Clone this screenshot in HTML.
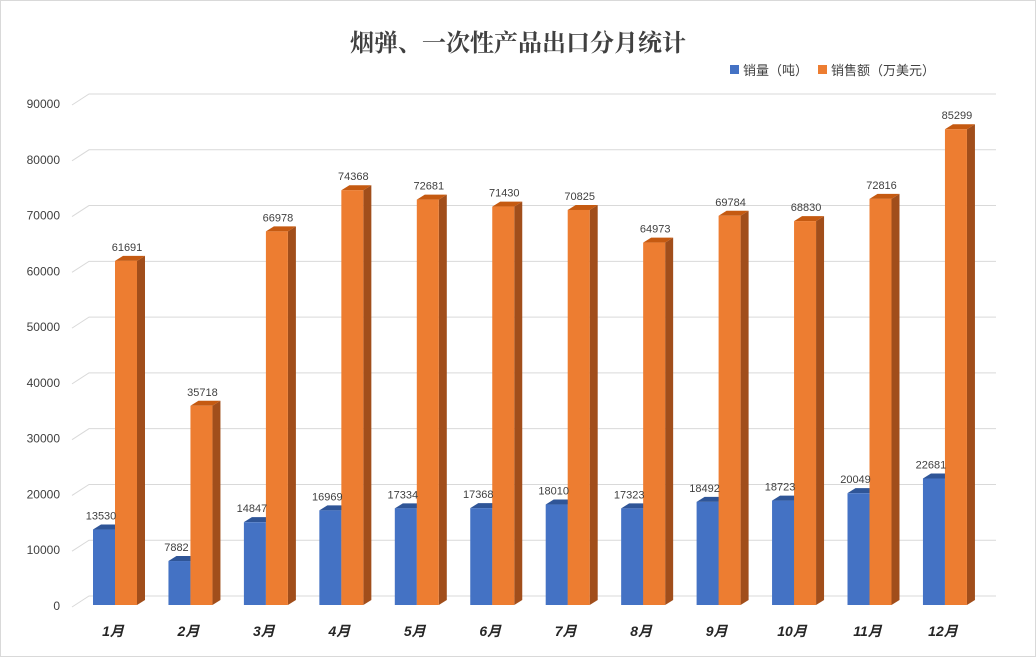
<!DOCTYPE html>
<html><head><meta charset="utf-8"><style>
body{margin:0;background:#fff}
svg{display:block;font-family:"Liberation Sans","Noto Sans CJK SC",sans-serif}
</style></head><body>
<svg id="chart" width="1036" height="657" viewBox="0 0 1036 657">
<rect x="0.5" y="0.5" width="1035" height="656" fill="#fff" stroke="#d9d9d9"/>
<text x="518" y="51" text-anchor="middle" font-size="24" font-weight="bold" fill="#404040" font-family="'Noto Serif CJK SC','Noto Sans CJK SC',serif">烟弹、一次性产品出口分月统计</text>
<g>
<rect x="730" y="65" width="9" height="9" fill="#4472c4"/>
<text x="743" y="75" font-size="13" fill="#404040">销量（吨）</text>
<rect x="818" y="65" width="9" height="9" fill="#ed7d31"/>
<text x="831" y="75" font-size="13" fill="#404040">销售额（万美元）</text>
</g>
<g id="grid"></g><g id="bars"></g><g id="labels"></g>
</svg>
<script>
const categories=["1月","2月","3月","4月","5月","6月","7月","8月","9月","10月","11月","12月"];
const volume=[13530,7882,14847,16969,17334,17368,18010,17323,18492,18723,20049,22681];
const sales=[61691,35718,66978,74368,72681,71430,70825,64973,69784,68830,72816,85299];
const ticks=[0,10000,20000,30000,40000,50000,60000,70000,80000,90000];
const NS="http://www.w3.org/2000/svg";
const y0=605,yTop=103,yMax=90000,dx=17,dy=11;
const y=v=>y0-(v/yMax)*(y0-yTop);
const xc=i=>115+i*75.45;
function mk(t,a,p){const e=document.createElementNS(NS,t);for(const k in a)e.setAttribute(k,a[k]);p.appendChild(e);return e;}
const grid=document.getElementById('grid'),bars=document.getElementById('bars'),labels=document.getElementById('labels');
ticks.forEach(t=>{
  const yy=y(t);
  const g=mk('polyline',{points:`${72},${yy+2} ${72+dx},${yy+2-dy} 996,${yy+2-dy}`,fill:'none',stroke:'#d9d9d9','stroke-width':1},grid);
  
  
  const l=mk('text',{x:60,y:yy+5,'text-anchor':'end','font-size':12,fill:'#404040'},labels);
  l.textContent=t;
  
  
});
function bar(x,w,v,front,top,side,name){
  const yy=y(v),d=8,h=5;
  const g=mk('g',{},bars);
  
  
  mk('polygon',{points:`${x+w},${yy} ${x+w+d},${yy-h} ${x+w+d},${y0-h} ${x+w},${y0}`,fill:side},g);
  mk('polygon',{points:`${x},${yy} ${x+d},${yy-h} ${x+w+d},${yy-h} ${x+w},${yy}`,fill:top},g);
  mk('rect',{x:x,y:yy,width:w,height:y0-yy,fill:front},g);
}
categories.forEach((c,i)=>{
  const cx=xc(i);
  bar(cx-22,22,volume[i],'#4472c4','#2f5597','#2f5597','bar-volume-'+(i+1));
  bar(cx,22,sales[i],'#ed7d31','#c55a11','#a14e1b','bar-sales-'+(i+1));
  const a=mk('text',{x:cx-14,y:y(volume[i])-10,'text-anchor':'middle','font-size':11,fill:'#404040'},labels);
  a.textContent=volume[i];
  
  
  const b=mk('text',{x:cx+12,y:y(sales[i])-10,'text-anchor':'middle','font-size':11,fill:'#404040'},labels);
  b.textContent=sales[i];
  
  
  const t=mk('text',{x:cx-2,y:636,'text-anchor':'middle','font-size':14,'font-weight':'bold','font-style':'italic',fill:'#262626'},labels);
  t.textContent=c;
  
  
});
</script>
</body></html>
